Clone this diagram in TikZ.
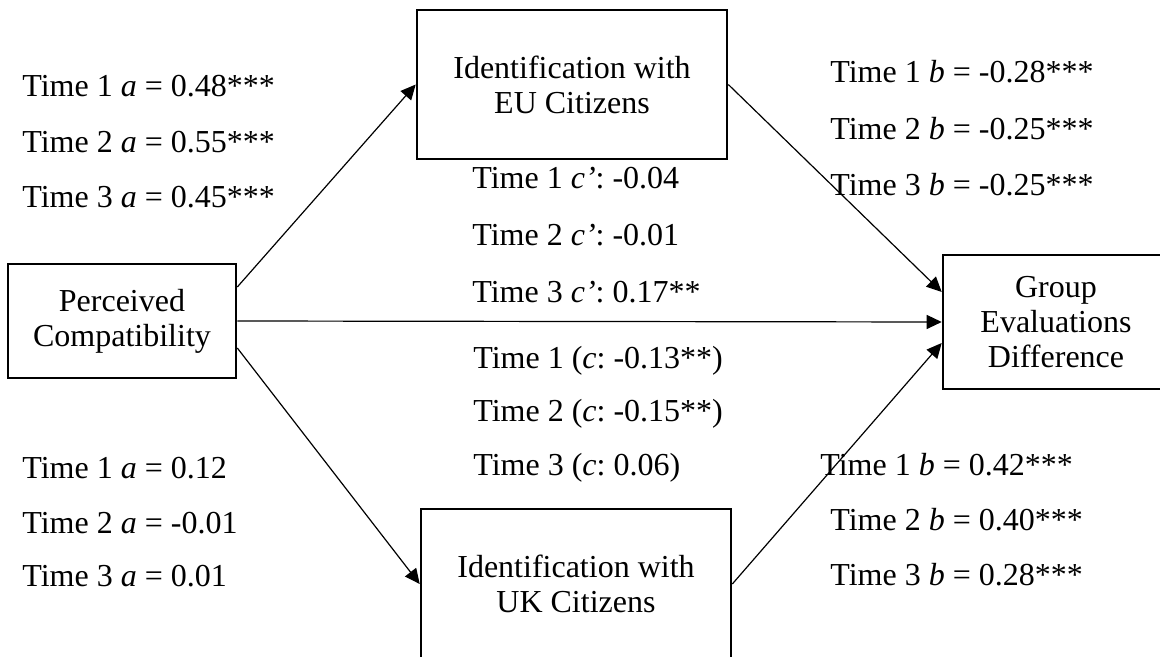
\documentclass[tikz,border=0pt]{standalone}
\usepackage{fontspec}
\setmainfont{Liberation Serif}
\usetikzlibrary{arrows.meta}
\frenchspacing
\begin{document}
\begin{tikzpicture}[x=0.5pt, y=-0.5pt,
	box/.style={draw, line width=1.3pt, inner sep=0pt, align=center, font=\fontsize{16}{17.5}\selectfont},
	lbl/.style={anchor=base west, inner sep=0pt, font=\fontsize{16}{19}\selectfont},
	link/.style={-{Triangle[length=7.5pt, width=7pt]}, line width=0.6pt}]
	\useasboundingbox (0, 0) rectangle (1160, 657);
	\clip (0, 0) rectangle (1160, 657);
	% boxes
	\node[box, minimum width=114pt, minimum height=57pt] (perc) at (122, 321) {Perceived\\Compatibility};
	\node[box, minimum width=155pt, minimum height=74.5pt] (eu) at (572, 84.5) {Identification with\\EU Citizens};
	\node[box, minimum width=155pt, minimum height=75pt] (uk) at (576, 584) {Identification with\\UK Citizens};
	\node[box, minimum width=113pt, minimum height=67pt] (grp) at (1056, 322) {Group\\Evaluations\\Difference};
	% paths
	\draw[link] ([yshift=17pt]perc.east) -- (eu.west);
	\draw[link] (perc.east) -- (grp.west);
	\draw[link] ([yshift=-13.5pt]perc.east) -- (uk.west);
	\draw[link] (eu.east) -- ([yshift=15pt]grp.west);
	\draw[link] (uk.east) -- ([yshift=-10.5pt]grp.west);
	% a paths
	\node[lbl] (aeu1) at (22, 97) {Time 1 \textit{a} = 0.48***};
	\node[lbl] (aeu2) at (22, 153) {Time 2 \textit{a} = 0.55***};
	\node[lbl] (aeu3) at (22, 208) {Time 3 \textit{a} = 0.45***};
	\node[lbl] (auk1) at (22, 478) {Time 1 \textit{a} = 0.12};
	\node[lbl] (auk2) at (22, 533) {Time 2 \textit{a} = -0.01};
	\node[lbl] (auk3) at (22, 586) {Time 3 \textit{a} = 0.01};
	% direct and total
	\node[lbl] (cd1) at (472, 189) {Time 1 \textit{c'}: -0.04};
	\node[lbl] (cd2) at (472, 246) {Time 2 \textit{c'}: -0.01};
	\node[lbl] (cd3) at (472, 303) {Time 3 \textit{c'}: 0.17**};
	\node[lbl] (ct1) at (473, 368) {Time 1 (\textit{c}: -0.13**)};
	\node[lbl] (ct2) at (473, 421) {Time 2 (\textit{c}: -0.15**)};
	\node[lbl] (ct3) at (473, 475) {Time 3 (\textit{c}: 0.06)};
	% b paths
	\node[lbl] (beu1) at (830, 83) {Time 1 \textit{b} = -0.28***};
	\node[lbl] (beu2) at (830, 140) {Time 2 \textit{b} = -0.25***};
	\node[lbl] (beu3) at (830, 196) {Time 3 \textit{b} = -0.25***};
	\node[lbl] (buk1) at (820, 475) {Time 1 \textit{b} = 0.42***};
	\node[lbl] (buk2) at (830, 530) {Time 2 \textit{b} = 0.40***};
	\node[lbl] (buk3) at (830, 585) {Time 3 \textit{b} = 0.28***};
\end{tikzpicture}
\end{document}
